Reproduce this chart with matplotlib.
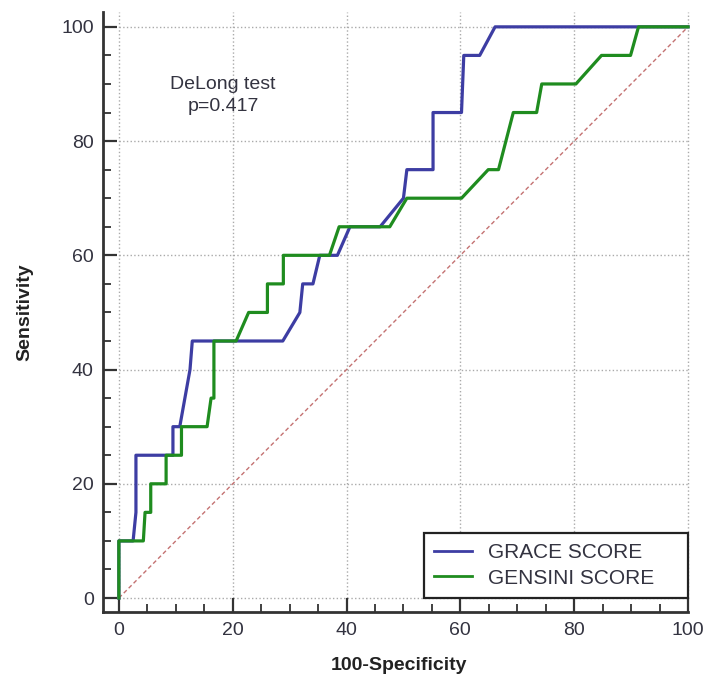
import matplotlib.pyplot as plt
from matplotlib.ticker import MultipleLocator

plt.rcParams['font.family'] = ['Liberation Sans', 'DejaVu Sans']

# Courbes ROC
grace_x = [0, 0, 2.5, 3.0, 3.0, 9.5, 9.5, 10.7, 12.5, 12.9, 28.8, 31.8, 32.3, 34.1,
           35.3, 38.4, 40.6, 45.9, 50.0, 50.6, 55.2, 55.2, 60.2, 60.6, 63.4, 66.1, 100]
grace_y = [0, 10, 10, 15, 25, 25, 30, 30, 40, 45, 45, 50, 55, 55,
           60, 60, 65, 65, 70, 75, 75, 85, 85, 95, 95, 100, 100]

gensini_x = [0, 0, 4.3, 4.6, 5.6, 5.6, 8.3, 8.3, 11.0, 11.0, 15.5, 16.2, 16.7, 16.7,
             20.6, 22.8, 26.1, 26.1, 28.9, 28.9, 37.0, 38.7, 47.6, 50.6, 60.2, 64.9,
             66.7, 69.3, 73.4, 74.3, 80.3, 84.8, 89.9, 91.3, 100]
gensini_y = [0, 10, 10, 15, 15, 20, 20, 25, 25, 30, 30, 35, 35, 45,
             45, 50, 50, 55, 55, 60, 60, 65, 65, 70, 70, 75,
             75, 85, 85, 90, 90, 95, 95, 100, 100]

ref_line = [0, 100]
ticks = [0, 20, 40, 60, 80, 100]
labels = ['GRACE SCORE', 'GENSINI SCORE']
note = 'DeLong test\np=0.417'

txt = '#333340'

fig = plt.figure(figsize=(7.06, 6.78), dpi=100)
ax = fig.add_axes([0.1466, 0.0973, 0.836, 0.885])
ax.set_xlim(-2.7, 101)
ax.set_ylim(-2.45, 102.6)

# grille pointillée (de 0 à 100 seulement)
ax.vlines(ticks, 0, 102.6, colors='#aaaaaa', linestyles=':', lw=1, zorder=0)
ax.hlines(ticks, 0, 100, colors='#aaaaaa', linestyles=':', lw=1, zorder=0)

ax.plot(ref_line, ref_line, color='#c47272', lw=1, linestyle=(0, (3, 2)), zorder=1)
ax.plot(grace_x, grace_y, color='#3d3da3', lw=2.3, label=labels[0], zorder=2)
ax.plot(gensini_x, gensini_y, color='#1f8c1f', lw=2.3, label=labels[1], zorder=3)

ax.text(18.3, 88, note, ha='center', va='center', fontsize=14, color=txt,
        multialignment='center', linespacing=1.4)

for s in ['top', 'right']:
    ax.spines[s].set_visible(False)
for s in ['left', 'bottom']:
    ax.spines[s].set_linewidth(2)
    ax.spines[s].set_color('#333333')
ax.spines['bottom'].set_bounds(-2.7, 100)

ax.xaxis.set_major_locator(MultipleLocator(20))
ax.yaxis.set_major_locator(MultipleLocator(20))
ax.xaxis.set_minor_locator(MultipleLocator(5))
ax.yaxis.set_minor_locator(MultipleLocator(5))
ax.tick_params(which='major', direction='in', length=10, width=1.6, color='#333333',
               labelsize=14, labelcolor=txt, pad=7)
ax.tick_params(which='minor', direction='in', length=6, width=1.3, color='#333333')

ax.set_xlabel('100-Specificity', fontsize=14, fontweight='bold', color='#222222', labelpad=13)
ax.set_ylabel('Sensitivity', fontsize=14, fontweight='bold', color='#222222', labelpad=20)

leg = ax.legend(loc='lower right', bbox_to_anchor=(100, 0), bbox_transform=ax.transData,
                borderaxespad=0, fontsize=15, fancybox=False, framealpha=1,
                edgecolor='#222222', handlelength=1.8, handletextpad=0.8,
                borderpad=0.5, labelspacing=0.3)
leg.get_frame().set_linewidth(1.6)
for t in leg.get_texts():
    t.set_color(txt)
    t.set_text(t.get_text() + '    ')
for h in leg.get_lines():
    h.set_linewidth(2)

fig.savefig('out.png', dpi=100)
